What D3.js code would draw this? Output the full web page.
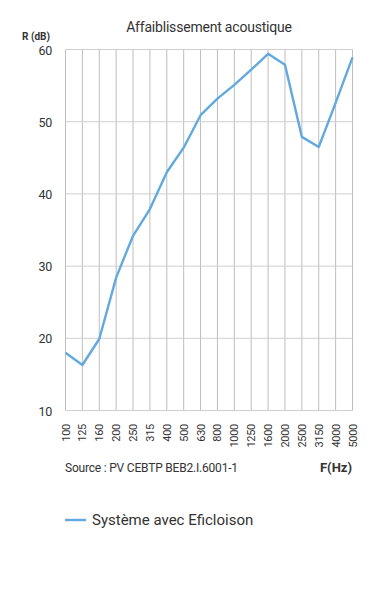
<!DOCTYPE html>
<html><head><meta charset="utf-8">
<script src="https://cdn.jsdelivr.net/npm/d3@7"></script>
<style>
body{margin:0;background:#fff;}
svg text{font-family:"Roboto","Liberation Sans",sans-serif;fill:#333;}
</style></head><body>
<svg id="c" width="378" height="600"></svg>
<script>
const categories = ["100","125","160","200","250","315","400","500","630","800","1000","1250","1600","2000","2500","3150","4000","5000"];
const values = [18.0,16.3,19.9,28.4,34.2,37.9,43.0,46.4,50.9,53.2,55.1,57.2,59.4,57.9,47.9,46.5,52.6,58.9];
const yTicks = [10,20,30,40,50,60];
const seriesName = "Système avec Eficloison";

(function(){
const svg = d3.select("#c");
const mL = 65.5, mR = 352.5, mT = 49.5, mB = 410.5;
const x = d3.scalePoint().domain(categories).range([mL, mR]);
const y = d3.scaleLinear().domain([10,60]).range([mB, mT]);

svg.append("g").selectAll("line").data(categories).join("line")
  .attr("x1", d=>x(d)).attr("x2", d=>x(d)).attr("y1", mT).attr("y2", mB)
  .attr("stroke", "#bdbdbd").attr("stroke-width", 1);
svg.append("g").selectAll("line").data(yTicks).join("line")
  .attr("x1", mL).attr("x2", mR).attr("y1", d=>y(d)).attr("y2", d=>y(d))
  .attr("stroke", "#cfcfcf").attr("stroke-width", 1);

svg.append("g").selectAll("text").data(yTicks).join("text")
  .attr("x", 52).attr("y", d=>y(d)+5).attr("text-anchor","end")
  .attr("font-size", 12.5).attr("letter-spacing", -0.3).text(d=>d);

svg.append("g").selectAll("text").data(categories).join("text")
  .attr("transform", d=>`translate(${x(d)+4},424) rotate(-90)`)
  .attr("text-anchor","end").attr("font-size", 11).attr("letter-spacing", -0.3).text(d=>d);

svg.append("path").datum(values)
  .attr("fill","none").attr("stroke","#62a9de").attr("stroke-width",2.4)
  .attr("stroke-linejoin","round")
  .attr("d", d3.line().x((d,i)=>x(categories[i])).y(d=>y(d)));

svg.append("text").attr("x", 209).attr("y", 32).attr("text-anchor","middle")
  .attr("font-size", 14).attr("letter-spacing", -0.2).text("Affaiblissement acoustique");
svg.append("text").attr("x", 22).attr("y", 40).attr("font-size", 10)
  .attr("font-weight","bold").text("R (dB)");
svg.append("text").attr("x", 65).attr("y", 472).attr("font-size", 12)
  .attr("letter-spacing", -0.2).text("Source : PV CEBTP BEB2.I.6001-1");
svg.append("text").attr("x", 352).attr("y", 472).attr("font-size", 13)
  .attr("text-anchor","end").attr("font-weight","bold").text("F(Hz)");

svg.append("line").attr("x1", 65).attr("x2", 86).attr("y1", 520).attr("y2", 520)
  .attr("stroke","#62a9de").attr("stroke-width",2.4);
svg.append("text").attr("x", 92).attr("y", 525).attr("font-size", 15).text(seriesName);
})();
</script>
</body></html>
